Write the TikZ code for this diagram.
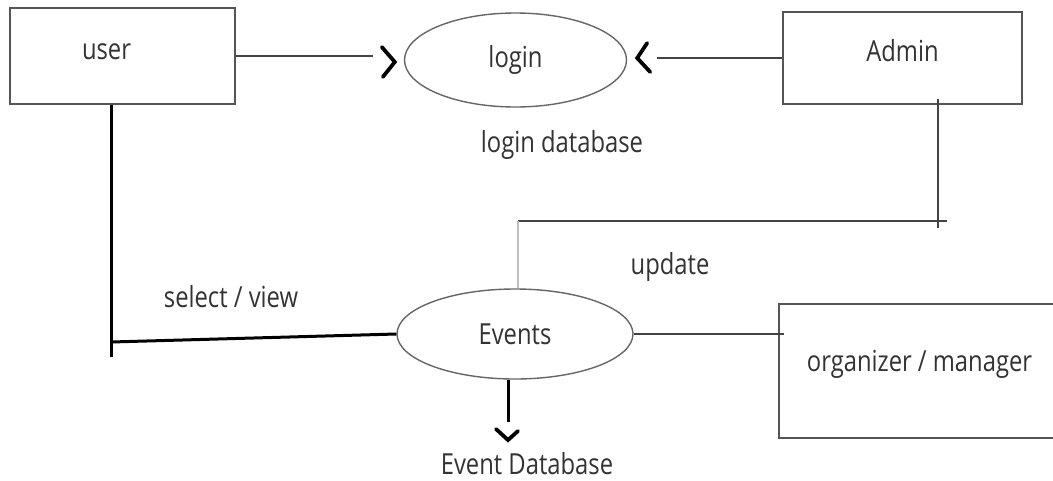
\documentclass[tikz,border=0pt]{standalone}
\usepackage{fontspec}
\setmainfont{Open Sans}[FakeStretch=0.82]
\usetikzlibrary{shapes.geometric}
\definecolor{txt}{HTML}{333333}
\definecolor{edge}{HTML}{555555}
\tikzset{
  lbl/.style={font=\fontsize{29}{34}\selectfont, text=txt, inner sep=0pt},
  entity/.style={draw=edge, line width=1.6pt, rectangle, font=\fontsize{29}{34}\selectfont, text=txt, inner sep=0pt},
  proc/.style={draw=edge!90, line width=1.4pt, ellipse, font=\fontsize{29}{34}\selectfont, text=txt, inner sep=0pt},
  thinline/.style={draw=edge!80!black, line width=1.4pt},
  greyline/.style={draw=black!25, line width=1.6pt},
  thickline/.style={draw=black, line width=3pt},
  chev/.style={draw=black, line width=3.8pt, line cap=round, line join=miter},
}
\begin{document}
\begin{tikzpicture}[x=1pt, y=-1pt]
\clip (0,0) rectangle (1053,480);
\fill[white] (0,0) rectangle (1053,480);

% entities
\node[entity, minimum width=225pt, minimum height=96pt, text width=81pt, align=left, text depth=8pt] (user) at (122.5,56) {user};
\node[entity, minimum width=239pt, minimum height=92pt, text depth=16pt] (admin) at (902.5,58) {Admin};
\node[entity, minimum width=281pt, minimum height=134pt, text depth=20pt] (org) at (919.5,371) {organizer / manager};

% processes
\node[proc, minimum width=222pt, minimum height=94pt] (login) at (515.5,60) {login};
\node[proc, minimum width=236pt, minimum height=90pt] (events) at (515,334) {Events};

% labels
\node[lbl] (logindb) at (562,145) {login database};
\node[lbl] (upd) at (670,267) {update};
\node[lbl] (selview) at (231,297) {select / view};
\node[lbl] (eventdb) at (527,464) {Event Database};

% user -> login
\draw[thinline, shorten >=31pt] (user.east) -- (user.east -| login.west);
\draw[chev] ([xshift=-22pt,yshift=13pt]login.west) -- ([xshift=-9pt,yshift=-2pt]login.west) -- ([xshift=-21pt,yshift=-17pt]login.west);

% admin -> login
\draw[thinline, shorten >=30pt] (admin.west) -- (admin.west -| login.east);
\draw[chev] ([xshift=20pt,yshift=17pt]login.east) -- ([xshift=10pt,yshift=2pt]login.east) -- ([xshift=23pt,yshift=-12pt]login.east);

% admin -> events (update)
\coordinate (c1) at (938,221);
\coordinate (c2) at (518,221);
\draw[thinline] ([yshift=6pt]admin.south -| c1) -- ([yshift=-7pt]c1);
\draw[thinline] ([xshift=9pt]c1) -- (c2);
\draw[greyline] (c2) -- (c2 |- events.north);

% user -> events (select / view)
\coordinate (sv) at (111,342);
\draw[thickline] (user.south -| sv) -- ([yshift=-15pt]sv);
\draw[thickline] (sv) -- (events.west);

% events -> organizer
\draw[thinline] (events.east) -- ([xshift=6pt]events.east -| org.west);

% events -> event database
\coordinate (edb) at (508,422);
\draw[thickline] (events.south -| edb) -- (edb);
\draw[chev] ([xshift=-12pt,yshift=-7pt]edb) -- ([yshift=-18pt]edb) -- ([xshift=10pt,yshift=-9pt]edb);
\end{tikzpicture}
\end{document}
